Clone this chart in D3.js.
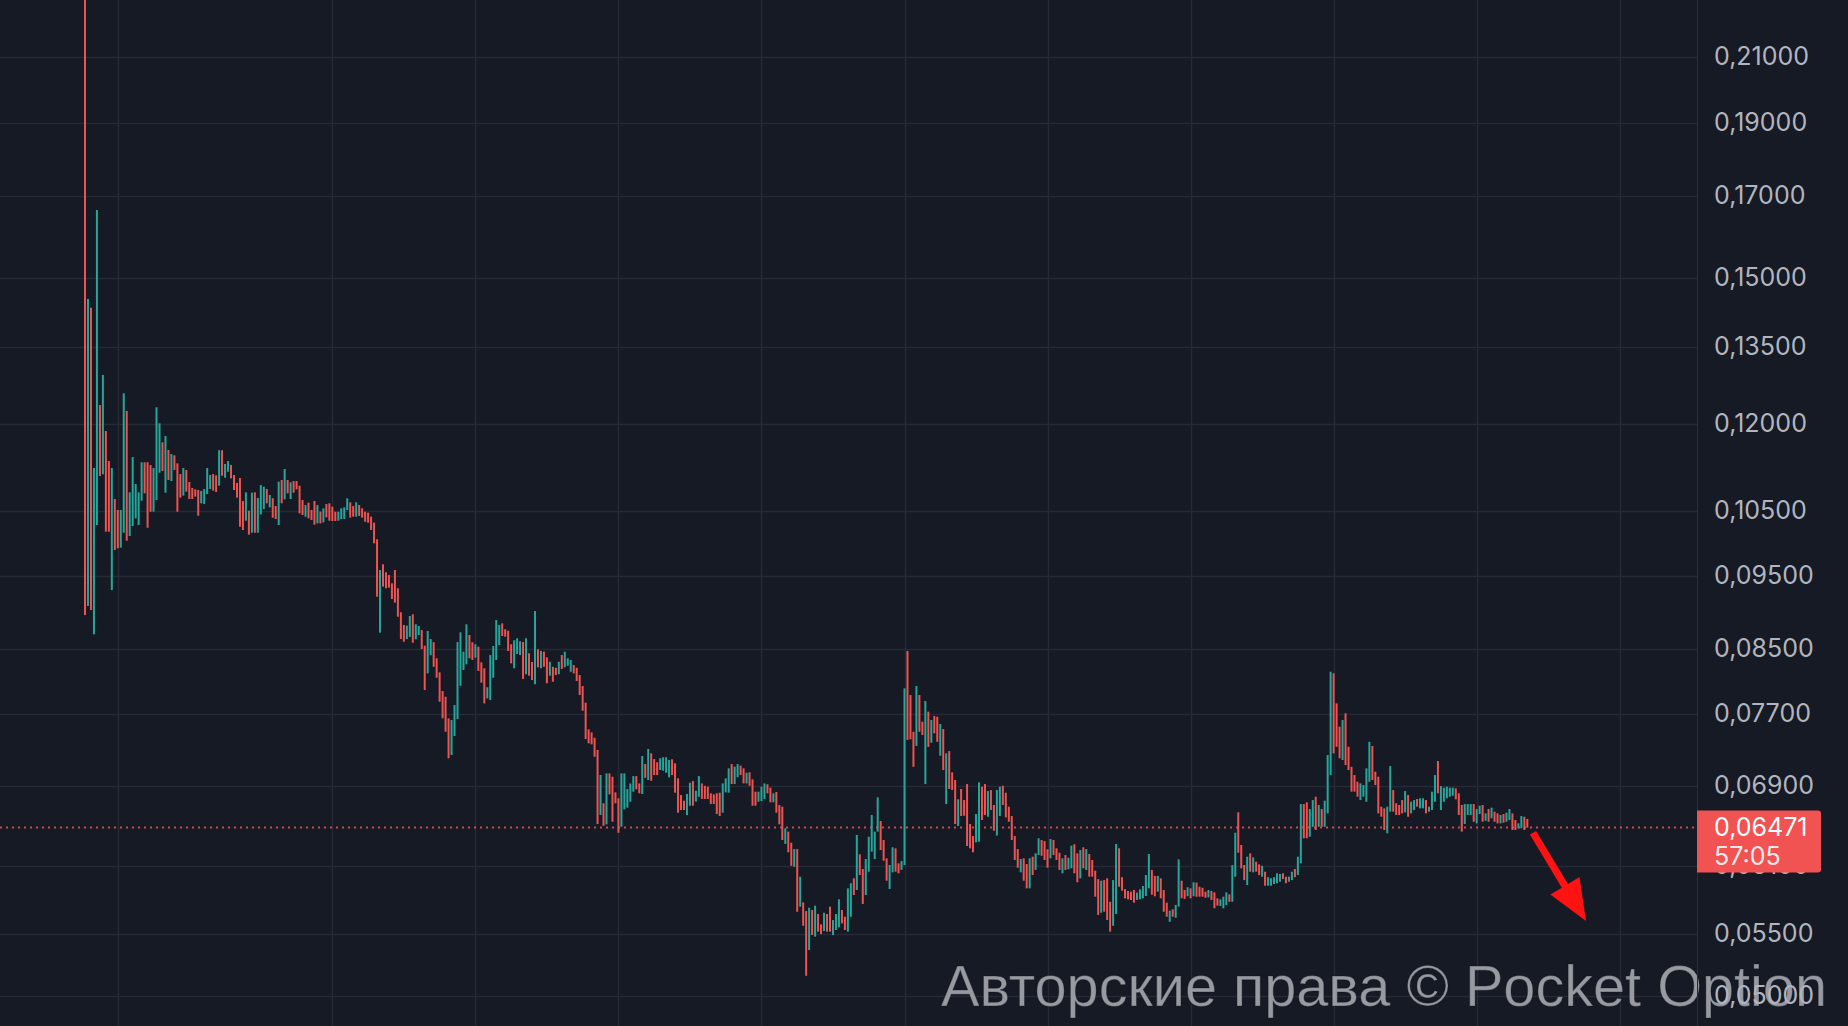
<!DOCTYPE html>
<html><head><meta charset="utf-8">
<script src="https://cdn.jsdelivr.net/npm/d3@7"></script>
<style>html,body{margin:0;padding:0;background:#161a25;overflow:hidden}</style>
</head><body><svg id="c" width="1848" height="1026"></svg>
<script>
// Candle open / close prices (one entry per 5‑minute candle)
const opens=[
0.24000,0.09080,0.14325,0.08695,0.10276,0.12345,0.11104,0.11864,0.11333,0.09304,
0.10693,0.10515,0.09926,0.10156,0.12233,0.10105,0.10260,0.10381,0.10276,0.10665,
0.11310,0.11310,0.11263,0.10488,0.10677,0.11131,0.11661,0.10797,0.11525,0.10991,
0.11431,0.11292,0.11109,0.10749,0.11178,0.10975,0.10874,0.10852,0.10841,0.10623,
0.10611,0.10775,0.10857,0.11109,0.11087,0.10913,0.11520,0.11046,0.11148,0.11263,
0.11092,0.10958,0.11041,0.10660,0.10344,0.10504,0.10156,0.10803,0.10156,0.10445,
0.10531,0.10857,0.10558,0.10705,0.10579,0.10276,0.11008,0.10688,0.11008,0.10693,
0.10991,0.10991,0.10913,0.10677,0.10407,0.10633,0.10515,0.10660,0.10302,0.10488,
0.10318,0.10611,0.10623,0.10568,0.10487,0.10344,0.10371,0.10371,0.10515,0.10639,
0.10580,0.10408,0.10596,0.10542,0.10487,0.10472,0.10408,0.10313,0.10054,0.08717,
0.09677,0.09560,0.09520,0.09400,0.09593,0.09329,0.08993,0.08820,0.08633,0.08660,
0.08965,0.08629,0.08686,0.08752,0.08545,0.08191,0.08424,0.08590,0.08382,0.08204,
0.07973,0.07904,0.07647,0.07230,0.07443,0.07639,0.08038,0.08233,0.08305,0.08686,
0.08590,0.08390,0.08532,0.08330,0.08255,0.07884,0.07864,0.08137,0.08360,0.08554,
0.08842,0.08762,0.08743,0.08564,0.08255,0.08437,0.08424,0.08593,0.08179,0.08446,
0.08335,0.08056,0.08498,0.08255,0.08467,0.08395,0.08162,0.08274,0.08261,0.08180,
0.08424,0.08267,0.08287,0.08212,0.08296,0.08261,0.08170,0.08034,0.07832,0.07520,
0.07485,0.07424,0.07286,0.06597,0.06716,0.06503,0.07030,0.06994,0.06829,0.06767,
0.06479,0.06654,0.06671,0.06732,0.06836,0.07001,0.06923,0.06812,0.07131,0.06959,
0.07249,0.07186,0.07150,0.07066,0.07059,0.07037,0.06988,0.07183,0.07139,0.06977,
0.06801,0.06742,0.06596,0.06691,0.06948,0.06733,0.06784,0.06923,0.06898,0.06888,
0.06819,0.06808,0.06819,0.06825,0.06620,0.06829,0.06825,0.07131,0.06916,0.06988,
0.07113,0.07084,0.06923,0.07041,0.06966,0.06836,0.06732,0.06739,0.06760,0.06913,
0.06878,0.06726,0.06833,0.06698,0.06681,0.06311,0.06431,0.06323,0.06095,0.06262,
0.05734,0.05772,0.05696,0.05366,0.05705,0.05477,0.05670,0.05581,0.05525,0.05670,
0.05734,0.05491,0.05533,0.05556,0.05705,0.05647,0.05519,0.05647,0.05988,0.05882,
0.06212,0.06074,0.05837,0.06049,0.06237,0.06167,0.06431,0.06536,0.06349,0.06174,
0.05891,0.06043,0.06269,0.06127,0.06065,0.06111,0.08476,0.07925,0.07492,0.07331,
0.07925,0.07608,0.06916,0.07725,0.07367,0.07674,0.07666,0.07222,0.07523,0.06708,
0.07274,0.07041,0.06959,0.06486,0.06864,0.06749,0.06916,0.06506,0.06388,0.06327,
0.06333,0.06888,0.06916,0.06579,0.06853,0.06698,0.06392,0.06586,0.06898,0.06825,
0.06681,0.06586,0.06388,0.06262,0.06043,0.06174,0.06120,0.05897,0.06189,0.06065,
0.06205,0.06349,0.06339,0.06259,0.06174,0.06349,0.06269,0.06227,0.06034,0.06205,
0.06071,0.06080,0.06308,0.06221,0.05988,0.06279,0.06065,0.06215,0.06158,0.06058,
0.05981,0.05681,0.05972,0.05988,0.05777,0.05569,0.05670,0.06269,0.05998,0.05890,
0.05873,0.05867,0.05882,0.05793,0.05799,0.05808,0.05828,0.05897,0.06065,0.06010,
0.05867,0.05988,0.05882,0.05769,0.05603,0.05711,0.05638,0.05734,0.05966,0.05882,
0.05826,0.05897,0.05826,0.05949,0.05911,0.05902,0.05867,0.05816,0.05873,0.05861,
0.05808,0.05740,0.05720,0.05749,0.05843,0.05777,0.06003,0.06624,0.06301,0.06111,
0.05927,0.06221,0.06043,0.06142,0.06117,0.06003,0.06049,0.05921,0.05921,0.05936,
0.05943,0.05957,0.06034,0.06003,0.05957,0.05972,0.06074,0.06018,0.06127,0.06708,
0.06726,0.06381,0.06479,0.06784,0.06479,0.06657,0.06479,0.06613,0.07013,0.08192,
0.07824,0.07550,0.07175,0.07706,0.07322,0.07101,0.07012,0.06941,0.06749,0.06784,
0.06732,0.06941,0.07331,0.07048,0.06994,0.06681,0.06664,0.06414,0.06630,0.06853,
0.06716,0.06698,0.06749,0.06623,0.06801,0.06613,0.06647,0.06760,0.06664,0.06664,
0.06749,0.06630,0.06647,0.06732,0.07164,0.06647,0.06732,0.06767,0.06784,0.06794,
0.06871,0.06819,0.06698,0.06506,0.06597,0.06597,0.06708,0.06513,0.06606,0.06698,
0.06539,0.06657,0.06563,0.06630,0.06613,0.06513,0.06606,0.06529,0.06546,0.06613,
0.06546,0.06464,0.06464,0.06579,0.06556
];
const closes=[
0.08955,0.14517,0.09024,0.11212,0.16632,0.11075,0.12925,0.10172,0.10172,0.11212,
0.09891,0.09917,0.10515,0.12568,0.10033,0.10803,0.11401,0.10941,0.10803,0.11310,
0.10786,0.10234,0.10488,0.11212,0.12302,0.12005,0.11160,0.11773,0.11008,0.11454,
0.11178,0.10488,0.10715,0.11212,0.10814,0.10693,0.10693,0.10732,0.10423,0.10825,
0.10857,0.11212,0.11092,0.10830,0.10808,0.11520,0.11080,0.11281,0.11332,0.11036,
0.10841,0.10715,0.10249,0.10198,0.10803,0.10126,0.10797,0.10156,0.10710,0.10924,
0.10896,0.10623,0.10759,0.10391,0.10370,0.10980,0.10623,0.11195,0.10786,0.10969,
0.10797,0.10852,0.10461,0.10434,0.10594,0.10381,0.10355,0.10281,0.10594,0.10302,
0.10541,0.10397,0.10344,0.10339,0.10339,0.10487,0.10542,0.10558,0.10704,0.10392,
0.10408,0.10639,0.10419,0.10392,0.10328,0.10313,0.10198,0.09993,0.09210,0.09593,
0.09352,0.09329,0.09338,0.09177,0.09126,0.08932,0.08633,0.08597,0.08811,0.08942,
0.08584,0.08830,0.08806,0.08502,0.07985,0.08739,0.08633,0.08274,0.08137,0.07844,
0.07647,0.07492,0.07194,0.07627,0.07804,0.08593,0.08722,0.08467,0.08829,0.08382,
0.08360,0.08564,0.08221,0.08075,0.07824,0.08019,0.08424,0.08541,0.08887,0.08820,
0.08673,0.08664,0.08476,0.08318,0.08616,0.08642,0.08603,0.08121,0.08642,0.08162,
0.08108,0.09010,0.08267,0.08476,0.08274,0.08068,0.08338,0.08087,0.08170,0.08338,
0.08246,0.08467,0.08382,0.08360,0.08191,0.08096,0.07925,0.07737,0.07409,0.07360,
0.07349,0.07211,0.06506,0.07013,0.06489,0.07030,0.06808,0.06529,0.06716,0.06420,
0.07030,0.07030,0.06864,0.06923,0.07001,0.06861,0.06819,0.07219,0.06983,0.07297,
0.06951,0.07012,0.07012,0.07194,0.07205,0.07205,0.07175,0.07012,0.06825,0.06620,
0.06647,0.06647,0.06812,0.06930,0.06691,0.06846,0.07001,0.06760,0.06760,0.06760,
0.06708,0.06708,0.06606,0.06586,0.06923,0.06977,0.07084,0.06916,0.07102,0.07131,
0.07012,0.06923,0.07037,0.06898,0.06691,0.06691,0.06836,0.06888,0.06923,0.06819,
0.06726,0.06819,0.06620,0.06503,0.06349,0.06464,0.06231,0.06104,0.06262,0.05690,
0.06003,0.05569,0.05159,0.05725,0.05491,0.05743,0.05519,0.05499,0.05681,0.05519,
0.05519,0.05618,0.05670,0.05799,0.05589,0.05533,0.05897,0.05943,0.05837,0.06398,
0.06018,0.05758,0.06167,0.06381,0.06597,0.06431,0.06777,0.06253,0.06151,0.05966,
0.06111,0.06279,0.06049,0.06034,0.06149,0.08006,0.07398,0.07406,0.07101,0.08034,
0.07492,0.07455,0.07852,0.07320,0.07627,0.07474,0.07378,0.07581,0.07066,0.07249,
0.06864,0.06853,0.06506,0.06757,0.06586,0.06589,0.06291,0.06269,0.06231,0.06606,
0.06934,0.06546,0.06597,0.06843,0.06647,0.06440,0.06853,0.06888,0.06698,0.06573,
0.06529,0.06349,0.06158,0.06086,0.06167,0.05966,0.05897,0.06174,0.06018,0.06221,
0.06366,0.06198,0.06158,0.06086,0.06359,0.06205,0.06158,0.06065,0.06174,0.06065,
0.06180,0.06295,0.06034,0.05952,0.06253,0.06080,0.06262,0.06003,0.06003,0.05822,
0.05662,0.05966,0.05690,0.05618,0.05519,0.05972,0.06311,0.05911,0.05876,0.05808,
0.05799,0.05793,0.05769,0.05858,0.05888,0.05918,0.06018,0.06215,0.05840,0.05826,
0.06010,0.05808,0.05690,0.05647,0.05699,0.05647,0.05749,0.06164,0.05808,0.05802,
0.05907,0.05808,0.05952,0.05822,0.05822,0.05822,0.05813,0.05882,0.05793,0.05720,
0.05743,0.05799,0.05822,0.05861,0.05777,0.06111,0.06420,0.06227,0.06080,0.05972,
0.06189,0.06049,0.06183,0.06049,0.06018,0.06104,0.05921,0.05998,0.05988,0.05998,
0.06034,0.06028,0.05981,0.05943,0.06003,0.06049,0.05998,0.06189,0.06708,0.06366,
0.06366,0.06657,0.06749,0.06447,0.06698,0.06479,0.06742,0.07230,0.08212,0.07249,
0.07322,0.07194,0.07627,0.07120,0.07066,0.06836,0.06836,0.06784,0.06923,0.06906,
0.07084,0.07378,0.06959,0.06906,0.06613,0.06579,0.06447,0.06681,0.07109,0.06630,
0.06597,0.06597,0.06613,0.06843,0.06579,0.06732,0.06749,0.06681,0.06767,0.06767,
0.06613,0.06681,0.06836,0.07012,0.06819,0.06895,0.06878,0.06888,0.06878,0.06878,
0.06757,0.06597,0.06431,0.06708,0.06708,0.06708,0.06529,0.06657,0.06691,0.06529,
0.06613,0.06529,0.06671,0.06529,0.06513,0.06597,0.06519,0.06620,0.06657,0.06447,
0.06447,0.06513,0.06586,0.06447,0.06471
];
// Price axis ticks (log scale)
const yTicks=[0.21,0.19,0.17,0.15,0.135,0.12,0.105,0.095,0.085,0.077,0.069,0.061,0.055,0.05];
// Candle indices where vertical time grid lines fall
const xGridIdx=[11,83,131,179,227,275,323,371,419,467,515];
const lastPrice=0.06471;
const timerLabel="57:05";
const watermarkText="Авторские права © Pocket Option";
// Annotation arrow (candle index, price)
const arrowFrom={i:485.9,p:0.0642}, arrowTo={i:503.7,p:0.0561};

const W=1848,H=1026,plotW=1697;
const n=Math.min(opens.length,closes.length);
const x=d3.scaleLinear().domain([0,484]).range([85,85+2.98*484]);
const y=d3.scaleLog().domain([0.04778,0.22928]).range([H,0]);
const fmt=d3.formatLocale({decimal:",",thousands:" ",grouping:[3],currency:["",""]}).format(".5f");

const UP="#26a69a",DOWN="#ef5350",BG="#161a25",GRID="#262a36";
const AXIS_FONT="Inter,Roboto,sans-serif",AXIS_SIZE=25;
const svg=d3.select("#c");
svg.append("rect").attr("width",W).attr("height",H).attr("fill",BG);
svg.append("defs").append("clipPath").attr("id","plot").append("rect").attr("width",plotW).attr("height",H);
const plot=svg.append("g").attr("clip-path","url(#plot)");

// grid
plot.append("g").selectAll("line").data(yTicks).join("line")
  .attr("x1",0).attr("x2",plotW)
  .attr("y1",d=>Math.round(y(d))+0.5).attr("y2",d=>Math.round(y(d))+0.5)
  .attr("stroke",GRID).attr("stroke-width",1.5);
plot.append("g").selectAll("line").data(xGridIdx).join("line")
  .attr("y1",0).attr("y2",H)
  .attr("x1",d=>Math.round(x(d))+0.5).attr("x2",d=>Math.round(x(d))+0.5)
  .attr("stroke",GRID).attr("stroke-width",1.5);

// current price dotted line
plot.append("line").attr("x1",0).attr("x2",plotW)
  .attr("y1",y(lastPrice)).attr("y2",y(lastPrice))
  .attr("stroke",DOWN).attr("stroke-width",2).attr("stroke-dasharray","2 4").attr("opacity",0.85);

// candles
const candles=d3.range(n).map(i=>({i,o:opens[i],c:closes[i]}));
plot.append("g").selectAll("rect").data(candles).join("rect")
  .attr("x",d=>x(d.i)-1).attr("width",2)
  .attr("y",d=>y(Math.max(d.o,d.c)))
  .attr("height",d=>Math.max(1,y(Math.min(d.o,d.c))-y(Math.max(d.o,d.c))))
  .attr("fill",d=>d.c>=d.o?UP:DOWN);

// watermark
svg.append("text").attr("x",941).attr("y",1006)
  .attr("font-family","'Liberation Sans',Arial,sans-serif").attr("font-size",58)
  .attr("textLength",886).attr("lengthAdjust","spacingAndGlyphs")
  .attr("fill","#a6a9b0").attr("fill-opacity",0.9)
  .attr("stroke","#0d0f15").attr("stroke-opacity",0.35).attr("stroke-width",1)
  .text(watermarkText);

// axis separator
svg.append("line").attr("x1",plotW+0.5).attr("x2",plotW+0.5).attr("y1",0).attr("y2",H)
  .attr("stroke","#2a2e39").attr("stroke-width",1);

// price axis labels
svg.append("g").selectAll("text").data(yTicks).join("text")
  .attr("x",1714).attr("y",d=>y(d)+8)
  .attr("font-family",AXIS_FONT).attr("font-size",AXIS_SIZE)
  .attr("fill","#b2b5be").text(d=>fmt(d));

// current price label
const py=y(lastPrice);
svg.append("path")
  .attr("d",`M${plotW},${py-17} H${1818} a3,3 0 0 1 3,3 V${py+42} a3,3 0 0 1 -3,3 H${plotW} Z`)
  .attr("fill","#f05352");
svg.append("text").attr("x",1714).attr("y",py+8.5)
  .attr("font-family",AXIS_FONT).attr("font-size",AXIS_SIZE)
  .attr("fill","#ffffff").text(fmt(lastPrice));
svg.append("text").attr("x",1714).attr("y",py+37)
  .attr("font-family",AXIS_FONT).attr("font-size",AXIS_SIZE)
  .attr("fill","#ffffff").attr("fill-opacity",0.9).text(timerLabel);

// red arrow annotation
(function(){
  const x0=x(arrowFrom.i),y0=y(arrowFrom.p),x1=x(arrowTo.i),y1=y(arrowTo.p);
  const dx=x1-x0,dy=y1-y0,L=Math.hypot(dx,dy),ux=dx/L,uy=dy/L,nx=-uy,ny=ux;
  const sw=3.6,hl=41,hw=17;
  const bx=x1-ux*hl,by=y1-uy*hl;
  const pts=[[x0+nx*sw,y0+ny*sw],[bx+nx*sw,by+ny*sw],[bx+nx*hw,by+ny*hw],[x1,y1],
             [bx-nx*hw,by-ny*hw],[bx-nx*sw,by-ny*sw],[x0-nx*sw,y0-ny*sw]];
  svg.append("path").attr("d","M"+pts.map(p=>p.join(",")).join("L")+"Z").attr("fill","#ff1212");
})();
</script></body></html>
